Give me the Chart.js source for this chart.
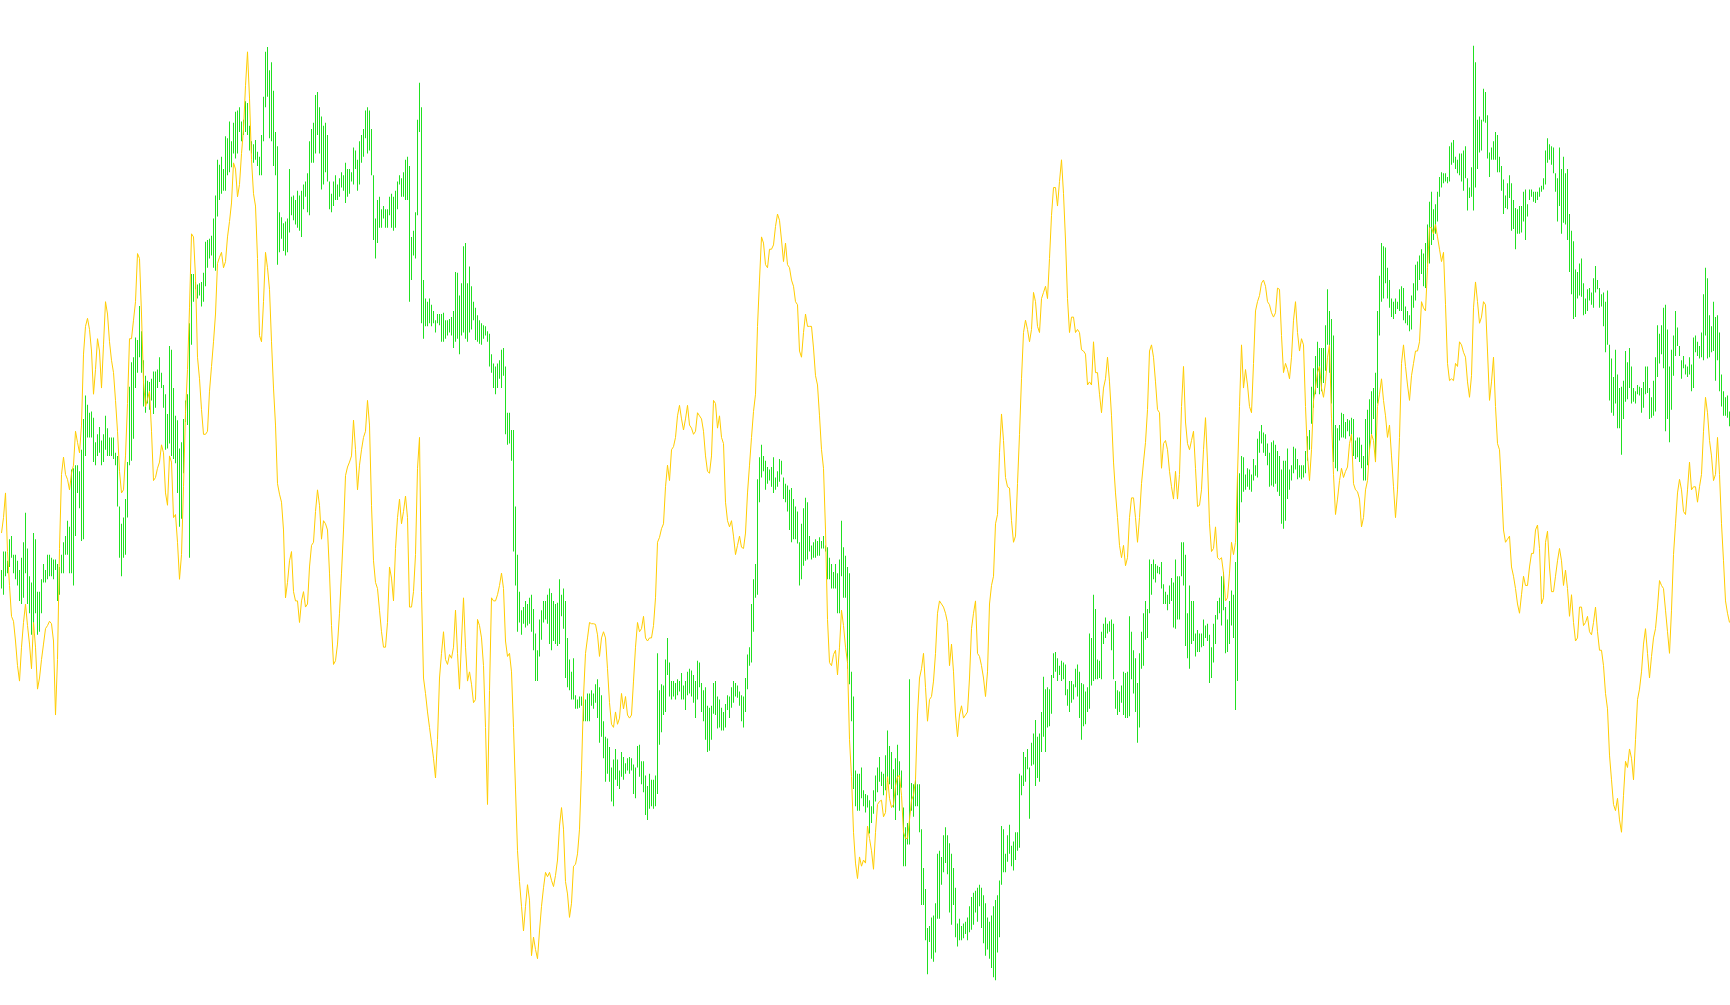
<!DOCTYPE html>
<html>
<head>
<meta charset="utf-8">
<title>Price bars with trend line</title>
<script src="https://cdn.jsdelivr.net/npm/chart.js@4.4.1/dist/chart.umd.min.js"></script>
<style>
    html, body { margin: 0; padding: 0; background: #ffffff; overflow: hidden; }
    canvas { display: block; }
</style>
</head>
<body>
<canvas id="priceChart" width="1730" height="1005"></canvas>
<script>
// bar ranges (upper end / lower end of each bar) and the smoothed trend line
// values are on a downward-growing scale, so the axis is reversed
const barFrom = [
    875,845,845,860,825,820,850,850,860,875,855,830,782,840,885,895,815,825,910,910,890,865,875,850,850,855,858,858,865,870,850,830,820,795,805,712,710,705,705,715,680,630,592,607,620,618,628,668,655,643,665,655,625,645,660,660,660,685,690,772,800,790,760,700,578,538,530,498,502,447,488,535,560,568,570,565,553,553,550,530,555,575,590,622,512,518,580,625,632,678,668,630,600,590,475,395,395,408,412,410,408,393,343,340,338,333,305,268,210,218,205,225,172,175,148,180,150,132,130,125,148,145,115,118,155,180,185,178,197,205,170,108,35,27,65,52,98,165,188,295,303,313,310,305,225,
    270,268,275,260,268,260,250,245,232,180,160,150,105,100,125,140,155,150,170,245,265,245,235,250,240,230,235,215,225,225,230,190,195,210,180,170,160,130,125,130,160,235,305,275,270,290,285,290,290,270,265,270,260,245,235,240,230,210,205,220,335,325,295,145,85,125,405,435,440,435,445,455,470,460,460,460,458,470,470,468,465,455,392,393,430,410,350,345,410,383,415,440,450,462,470,475,478,480,488,492,525,540,545,540,535,518,515,545,620,620,648,648,772,850,910,940,935,925,930,920,915,938,978,1005,955,940,925,925,915,905,912,925,930,928,890,915,905,925,985,1020,1040,1018,1078,1085,1080,
    1080,1080,1085,1075,1075,1070,1075,1060,1052,1065,1078,1120,1145,1148,1162,1195,1182,1165,1182,1200,1170,1178,1188,1180,1178,1180,1190,1195,1160,1158,1185,1185,1208,1225,1205,1215,1215,1208,1010,1070,1060,1062,1020,985,1025,1055,1055,1058,1052,1055,1042,1062,1055,1040,1035,1038,1045,1055,1022,1025,1058,1070,1065,1095,1098,1095,1058,1055,1080,1085,1098,1105,1092,1078,1080,1065,1055,1058,1062,1072,1078,1080,1050,1012,1000,930,890,865,728,692,672,690,698,708,712,708,692,725,715,695,698,725,735,738,745,742,760,772,780,830,800,775,758,765,820,835,830,825,828,822,828,820,835,838,855,865,878,865,880,858,795,838,852,870,880,1040,1080,1200,1205,1205,1195,1232,1238,1240,1248,
    1258,1232,1208,1195,1178,1202,1205,1175,1135,1160,1170,1198,1180,1158,1185,1200,1260,1292,1285,1052,1220,1222,1215,1222,1222,1295,1358,1392,1455,1452,1438,1435,1415,1335,1330,1340,1305,1292,1305,1318,1335,1358,1390,1448,1440,1452,1448,1445,1438,1420,1405,1398,1395,1390,1385,1390,1402,1415,1438,1445,1435,1420,1410,1402,1378,1290,1295,1335,1305,1288,1322,1315,1300,1300,1205,1208,1170,1178,1165,1195,1155,1140,1118,1145,1140,1105,1048,1068,1065,1068,1045,1010,1008,1018,1030,1022,1025,1028,1068,1055,1055,1060,1035,1028,1040,1058,1060,1072,1065,978,985,915,938,1020,1022,975,962,952,962,958,955,962,1055,1070,1072,1062,1040,1042,1040,950,975,1005,1018,1058,1010,975,945,925,938,858,865,858,865,868,870,
    862,898,910,915,900,888,895,858,885,885,830,830,850,945,900,925,925,978,972,978,978,955,965,962,980,1000,962,948,925,920,885,878,935,955,925,908,915,862,720,718,690,692,720,710,712,720,695,705,662,650,640,652,655,670,685,668,665,672,682,690,712,698,698,678,712,705,675,678,695,705,705,705,682,658,648,578,548,528,505,515,515,515,478,420,455,468,495,640,645,640,620,622,635,630,632,628,630,665,660,660,672,690,630,615,598,585,580,555,455,398,345,350,352,385,405,435,440,435,440,420,415,418,448,455,462,430,410,380,375,365,355,362,345,315,278,262,290,282,262,238,230,232,232,238,188,
    182,178,205,210,200,200,195,188,240,255,222,25,52,145,140,145,95,100,138,198,190,180,165,170,205,220,242,268,248,235,248,275,288,290,285,285,262,258,282,258,258,262,262,262,255,252,240,195,175,185,188,190,232,240,190,225,205,232,225,298,325,342,388,392,378,370,410,435,420,418,425,402,382,405,418,428,425,440,422,510,532,562,518,558,580,578,568,520,538,515,545,580,585,575,578,580,570,545,545,580,595,568,530,478,492,478,450,445,485,545,518,495,455,482,512,535,528,542,545,530,542,498,495,505,512,490,428,385,402,462,480,440,465,462,490,558,585,595,592,618
];
const barTo = [
    905,915,885,880,870,855,880,890,900,925,930,920,880,930,945,980,965,945,980,975,945,895,895,890,885,885,890,875,925,915,880,880,850,850,880,880,900,820,750,775,828,825,690,660,660,660,700,705,690,685,705,700,680,690,690,690,695,705,772,855,885,855,850,790,705,698,662,580,555,530,555,610,620,605,615,600,622,612,580,570,580,612,680,678,670,690,695,702,750,805,792,718,635,640,855,510,440,420,435,430,448,440,415,385,370,365,385,390,302,275,265,260,260,235,230,222,200,208,200,165,180,170,165,170,195,200,215,210,220,235,235,180,125,108,175,180,220,235,380,360,338,358,365,360,328,
    300,308,315,320,325,335,290,270,295,300,215,215,200,170,200,258,250,230,245,290,295,285,275,275,270,255,260,280,270,265,245,250,225,260,250,215,205,175,200,195,235,340,370,345,320,320,305,320,320,300,320,325,320,290,250,270,270,275,275,440,405,365,370,300,165,475,500,480,480,475,480,475,490,475,478,505,505,500,495,490,495,515,505,500,525,495,490,500,505,490,485,470,502,505,508,510,500,495,505,545,555,580,590,580,565,580,560,655,672,670,698,845,900,975,960,980,962,968,965,962,975,1005,1055,1055,1015,988,960,955,962,995,1005,990,995,998,995,950,970,1050,1065,1070,1085,1085,1100,1100,1098,
    1095,1120,1120,1120,1120,1095,1100,1090,1115,1155,1145,1180,1218,1205,1218,1250,1258,1215,1225,1230,1210,1215,1205,1200,1205,1200,1238,1245,1195,1210,1222,1235,1272,1280,1262,1258,1262,1258,1238,1158,1138,1110,1105,1045,1080,1085,1080,1085,1078,1072,1085,1085,1102,1078,1075,1080,1090,1115,1085,1065,1105,1120,1150,1170,1168,1150,1108,1110,1132,1130,1135,1135,1130,1102,1115,1098,1090,1080,1082,1095,1120,1130,1105,1068,1030,1025,975,920,915,765,725,715,745,735,730,740,750,745,740,732,720,760,765,780,810,830,825,825,832,900,890,868,860,858,845,858,855,855,852,852,840,840,845,890,890,905,905,905,945,945,885,920,920,1035,1060,1120,1230,1258,1265,1265,1245,1258,1268,1260,1302,
    1285,1270,1250,1235,1218,1225,1240,1232,1218,1222,1230,1260,1280,1240,1265,1228,1355,1355,1320,1320,1265,1275,1258,1258,1300,1418,1418,1475,1530,1478,1505,1510,1495,1440,1440,1385,1365,1350,1368,1430,1450,1418,1470,1485,1475,1475,1472,1465,1475,1462,1458,1450,1430,1445,1420,1455,1480,1500,1490,1505,1520,1535,1540,1495,1470,1385,1365,1365,1348,1335,1355,1362,1345,1330,1325,1240,1225,1218,1198,1278,1192,1190,1225,1212,1218,1170,1145,1170,1130,1128,1108,1050,1040,1055,1045,1055,1052,1078,1095,1105,1090,1085,1065,1080,1115,1150,1128,1125,1105,1100,1062,1055,1052,1052,1050,1052,995,985,978,975,1005,1052,1100,1110,1105,1090,1110,1115,1115,1112,1052,1075,1105,1155,1130,1035,1030,988,985,945,915,890,895,880,882,
    905,930,930,940,930,925,968,970,955,955,885,900,998,1018,1035,995,990,1015,1008,1008,1000,998,985,990,1058,1050,1025,995,955,945,965,940,1010,1008,995,965,985,1102,1055,798,765,748,745,740,745,748,730,722,725,685,670,685,690,705,740,738,740,735,748,755,800,808,795,760,745,730,718,712,728,725,728,725,718,698,680,638,612,590,580,590,585,572,552,510,555,605,700,710,715,665,660,660,662,650,658,665,690,695,692,700,710,730,730,705,680,655,630,700,605,495,440,435,410,435,450,465,468,460,452,455,455,470,475,478,488,485,450,438,422,405,395,415,418,378,378,348,340,330,310,270,255,248,245,248,245,
    218,215,225,232,235,245,260,240,292,272,270,292,255,225,198,195,148,150,208,238,210,210,210,230,230,260,298,288,290,272,325,322,355,330,330,328,310,340,302,275,270,278,280,275,270,262,258,250,215,210,218,232,262,310,285,330,312,315,340,392,428,468,465,435,430,432,462,460,455,438,445,450,425,420,450,448,480,522,510,600,620,625,605,645,645,688,630,602,598,580,605,602,605,590,592,620,612,590,588,630,628,625,618,562,540,525,548,650,630,668,615,560,528,512,528,565,548,558,562,558,585,580,522,528,532,530,535,495,532,530,522,520,568,535,585,610,625,625,628,642
];
const trendValues = [
    815,790,750,845,900,950,958,990,1030,1055,1000,960,930,965,995,1035,960,1000,1068,1050,1020,995,970,965,958,962,990,1110,1020,840,720,692,720,728,745,718,705,650,668,685,640,525,480,467,485,520,590,550,500,520,580,510,440,460,505,535,555,600,650,715,750,745,690,605,500,500,470,440,362,370,460,570,610,598,585,650,730,725,710,700,672,685,750,770,690,700,790,785,830,890,850,740,620,550,450,330,335,400,530,565,615,655,655,650,585,545,505,460,378,368,360,385,375,335,310,280,215,225,270,250,200,160,90,35,110,210,265,285,370,495,505,440,360,385,420,505,580,640,735,752,765,810,920,895,860,
    845,910,925,925,960,925,910,935,930,870,835,830,780,745,770,825,795,800,810,880,965,1028,1022,995,945,880,810,722,708,700,690,632,680,745,705,680,660,650,600,640,770,860,895,905,940,975,1000,1000,960,870,888,925,840,790,760,800,780,755,790,935,935,910,850,710,660,910,1050,1075,1105,1130,1155,1180,1212,1150,1050,1010,975,1020,1028,1012,1018,1000,940,1010,1068,990,920,1000,1055,1040,1060,1090,1085,955,965,985,1030,1130,1255,1070,920,925,925,915,900,880,905,990,1015,1010,1040,1130,1230,1330,1380,1420,1460,1420,1385,1410,1500,1470,1490,1505,1460,1420,1390,1365,1372,1365,1378,1388,1370,1345,1290,1260,1295,1380,1400,1438,1415,1355,1352,1335,1295,
    1200,1080,1010,985,960,962,962,963,980,1015,985,975,985,1035,1090,1125,1130,1105,1125,1115,1075,1100,1080,1110,1115,1110,1055,1000,960,975,970,950,985,990,985,985,965,920,830,822,808,800,740,705,730,680,675,660,625,608,630,648,630,608,640,645,655,650,620,625,630,650,690,715,718,690,600,605,645,625,660,670,765,795,805,795,820,850,835,820,838,840,815,750,705,660,618,590,480,405,335,345,380,385,355,355,348,318,298,308,340,375,345,380,385,405,415,440,445,520,530,490,460,480,480,480,515,560,575,625,680,710,810,955,1025,1030,1012,1005,1045,1000,940,965,1000,1025,1150,1210,1300,1350,1375,1340,1355,1345,1350,1290,1310,
    1330,1360,1300,1255,1250,1248,1275,1268,1210,1245,1260,1255,1225,1210,1208,1240,1300,1310,1310,1280,1248,1240,1215,1110,1050,1035,1010,1065,1120,1085,1080,1055,1010,945,925,930,935,945,960,1030,995,1040,1110,1145,1110,1095,1115,1110,1105,1050,970,945,925,1010,1015,1030,1050,1080,1040,930,900,885,800,785,685,622,665,725,740,742,795,830,820,735,655,565,490,470,485,505,485,425,440,480,490,435,425,415,435,370,300,255,255,285,245,210,265,340,435,490,465,465,490,485,490,518,520,525,575,570,575,505,555,555,590,620,580,565,530,570,625,700,750,790,835,855,835,868,855,790,758,758,790,830,790,735,700,668,615,520,510,530,570,615,620,
    710,670,665,680,715,740,760,715,760,720,610,545,635,670,680,665,650,710,772,770,745,680,628,700,800,845,840,805,855,858,855,880,925,920,880,830,850,830,720,610,510,580,550,575,610,620,540,455,440,430,410,405,415,440,445,458,465,458,418,420,495,555,540,550,565,530,470,440,490,520,500,510,610,690,730,680,600,580,555,545,580,595,570,530,510,630,720,785,760,730,710,725,715,708,670,655,735,745,748,760,805,790,745,730,680,655,665,700,610,590,565,600,625,660,640,690,740,790,745,660,540,510,545,575,600,560,540,520,520,505,440,450,455,385,320,320,330,315,335,355,375,360,445,540,568,
    565,568,540,545,505,510,522,530,570,595,560,450,408,440,475,465,440,445,520,600,570,530,610,670,680,740,810,830,825,820,870,885,905,930,945,915,885,900,900,870,848,848,810,802,840,930,920,830,812,870,910,910,885,860,840,860,900,875,905,950,915,960,990,985,935,935,965,960,950,975,980,960,935,975,1005,1005,1030,1075,1100,1175,1215,1255,1265,1245,1280,1300,1240,1185,1195,1165,1180,1215,1150,1085,1068,1040,995,970,1010,1050,1015,985,970,935,892,900,905,940,975,1010,940,850,800,750,728,745,780,785,745,700,745,740,740,765,740,720,650,595,620,665,690,730,720,660,720,800,860,925,945,960
];
const sessionLabels = barFrom.map((_, i) => String(i + 1));

// shift drawing half a pixel so the 1px bars land on whole pixels
const pixelAlign = {
    id: 'pixelAlign',
    beforeDatasetsDraw(chart) {
        chart.ctx.save();
        chart.ctx.translate(0.5, 0);
    },
    afterDatasetsDraw(chart) {
        chart.ctx.restore();
    }
};

const ctx = document.getElementById('priceChart').getContext('2d');

new Chart(ctx, {
    data: {
        labels: sessionLabels,
        datasets: [
            {
                type: 'line',
                label: 'Trend',
                data: trendValues,
                borderColor: '#ffcc00',
                borderWidth: 1,
                pointRadius: 0,
                tension: 0,
                fill: false,
                order: 0
            },
            {
                type: 'bar',
                label: 'Range',
                data: barFrom.map((v, i) => [v, barTo[i]]),
                backgroundColor: '#20e020',
                borderWidth: 0,
                borderSkipped: false,
                inflateAmount: 0,
                barThickness: 1,
                order: 1
            }
        ]
    },
    options: {
        responsive: false,
        animation: false,
        devicePixelRatio: 1,
        layout: { padding: 0 },
        plugins: {
            legend: { display: false },
            tooltip: { enabled: false }
        },
        scales: {
            x: { display: false, offset: true },
            y: { display: false, reverse: true, min: -49, max: 1580 }
        }
    },
    plugins: [pixelAlign]
});
</script>
</body>
</html>
